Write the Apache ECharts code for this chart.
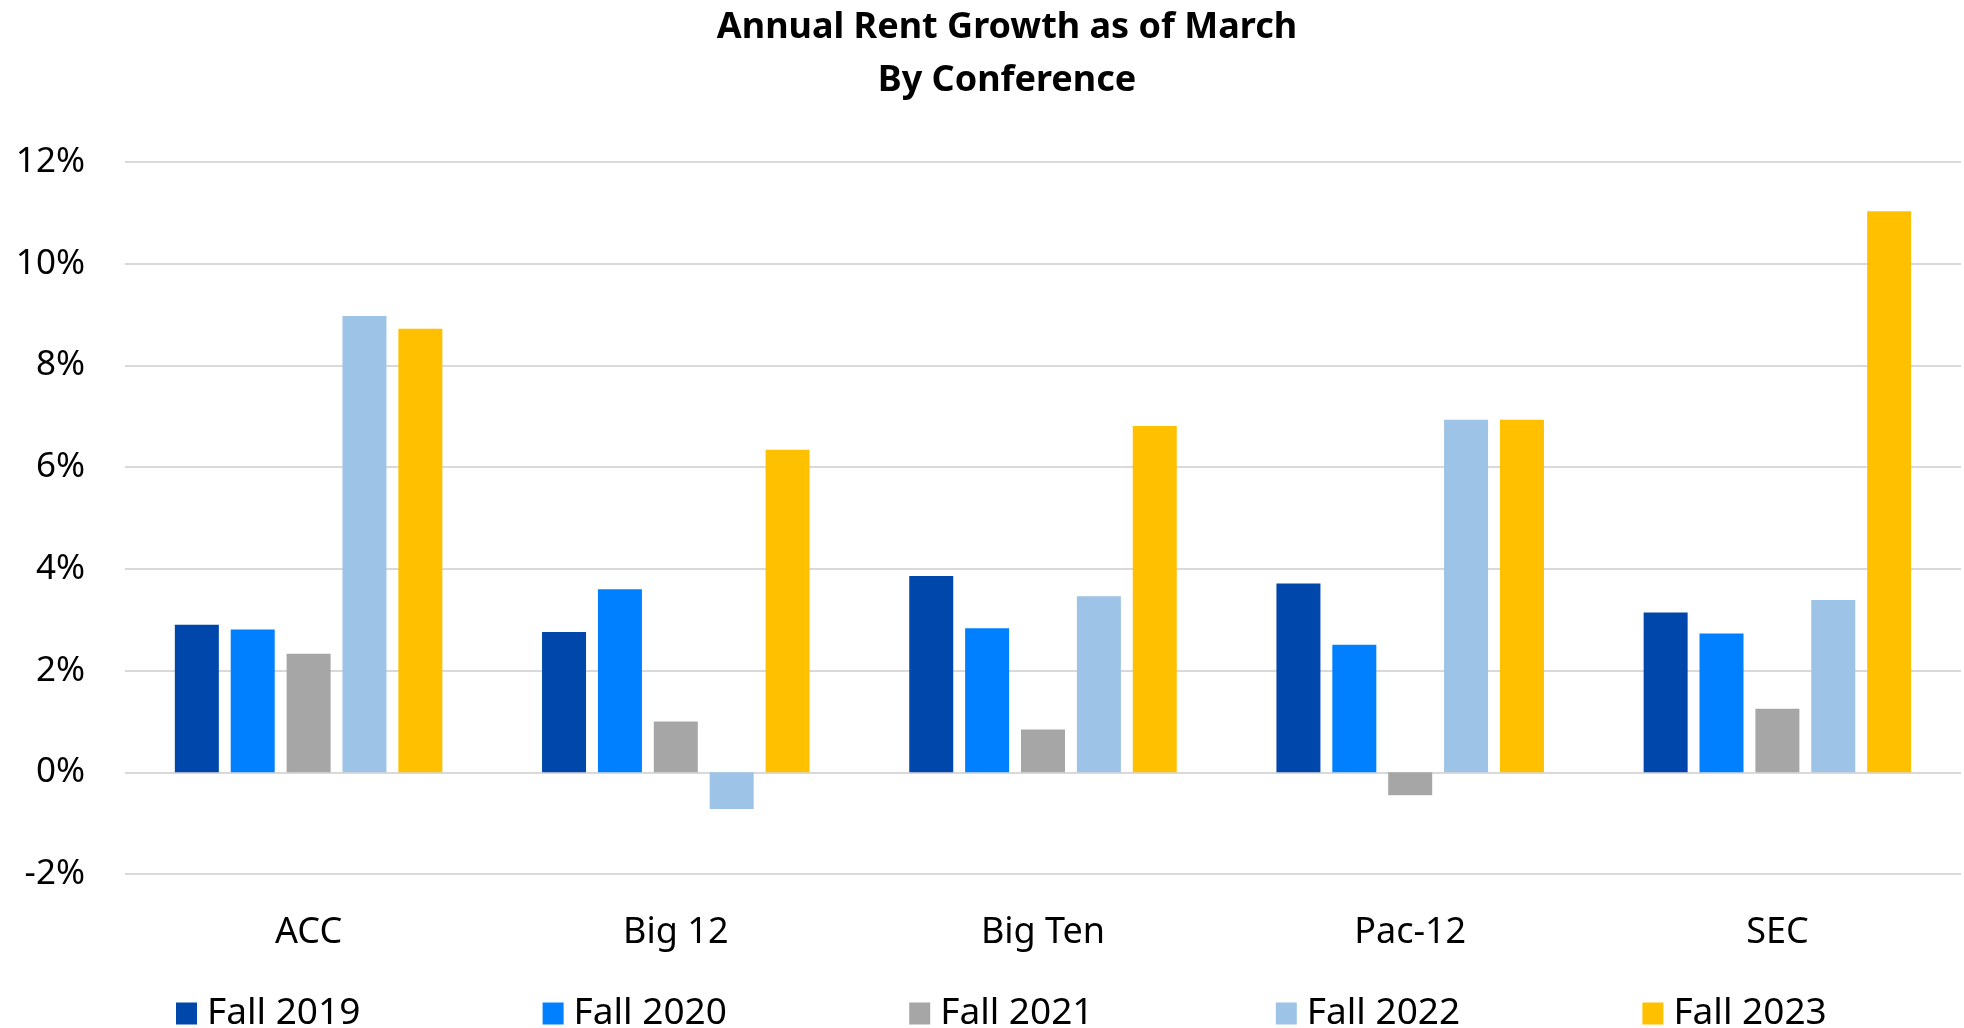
<!DOCTYPE html>
<html>
<head>
<meta charset="utf-8">
<script src="https://cdn.jsdelivr.net/npm/echarts@6/dist/echarts.min.js"></script>
<style>
  html, body { margin: 0; padding: 0; background: #fff; }
  #eChart { width: 1964px; height: 1028px; }
</style>
</head>
<body>
<div id="eChart"></div>
<script>
// conferences and rent growth (%) per fall term
var categories = ['ACC', 'Big 12', 'Big Ten', 'Pac-12', 'SEC'];
var seriesNames = ['Fall 2019', 'Fall 2020', 'Fall 2021', 'Fall 2022', 'Fall 2023'];
var fall2019 = [2.90, 2.76, 3.86, 3.71, 3.14];
var fall2020 = [2.81, 3.60, 2.83, 2.51, 2.73];
var fall2021 = [2.33, 1.00, 0.84, -0.45, 1.25];
var fall2022 = [8.97, -0.72, 3.46, 6.93, 3.39];
var fall2023 = [8.72, 6.34, 6.81, 6.93, 11.03];
var colors = ['#0047AB', '#0080FF', '#A6A6A6', '#9DC3E6', '#FFC000'];

var fontFamily = '"Noto Sans", sans-serif';

var series = [fall2019, fall2020, fall2021, fall2022, fall2023].map(function (d, i) {
    return {
        name: seriesNames[i],
        type: 'bar',
        data: d,
        barWidth: 44,
        barGap: '27%',
        itemStyle: { color: colors[i] }
    };
});

// one legend per series so the items sit on an even spacing
var legends = seriesNames.map(function (name, i) {
    return {
        left: 171 + i * 366.6,
        top: 990,
        itemWidth: 21,
        itemHeight: 22,
        icon: 'rect',
        textStyle: {
            fontFamily: fontFamily,
            fontSize: 37,
            color: '#000',
            padding: [0, 0, 0, 5]
        },
        data: [name]
    };
});

var option = {
    animation: false,
    textStyle: { fontFamily: fontFamily },
    title: {
        text: 'Annual Rent Growth as of March\nBy Conference',
        left: 1002,
        textAlign: 'center',
        top: -4,
        textStyle: {
            fontFamily: fontFamily,
            fontSize: 36,
            fontWeight: 'bold',
            color: '#000',
            lineHeight: 53
        }
    },
    legend: legends,
    grid: {
        left: 125,
        right: 3,
        top: 162,
        bottom: 154
    },
    xAxis: {
        type: 'category',
        data: categories,
        axisLine: { show: false },
        axisTick: { show: false },
        axisLabel: {
            fontFamily: fontFamily,
            fontSize: 36,
            color: '#000',
            margin: 41
        }
    },
    yAxis: {
        type: 'value',
        min: -2,
        max: 12,
        interval: 2,
        axisLine: { show: false },
        axisTick: { show: false },
        axisLabel: {
            formatter: '{value}%',
            fontFamily: fontFamily,
            fontSize: 35,
            color: '#000',
            margin: 40
        },
        splitLine: { lineStyle: { color: '#D9D9D9', width: 2 } }
    },
    series: series
};

var _eChart = echarts.init(document.getElementById('eChart'));
_eChart.setOption(option);
</script>
</body>
</html>
